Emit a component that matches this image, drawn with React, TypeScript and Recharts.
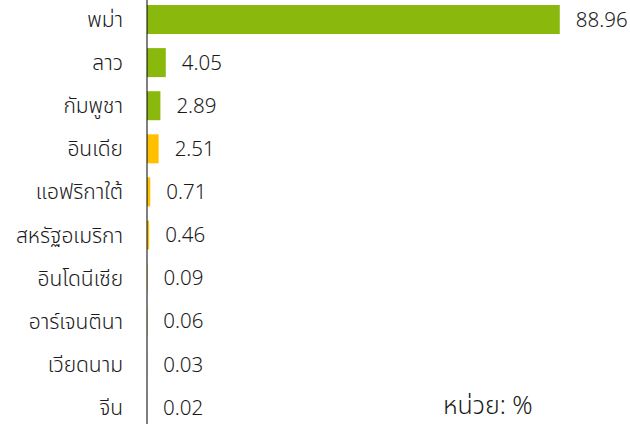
import React from 'react';
import { BarChart, Bar, XAxis, YAxis, Cell, LabelList } from 'recharts';

const categories = ['พม่า', 'ลาว', 'กัมพูชา', 'อินเดีย', 'แอฟริกาใต้', 'สหรัฐอเมริกา', 'อินโดนีเซีย', 'อาร์เจนตินา', 'เวียดนาม', 'จีน'];
const values = [88.96, 4.05, 2.89, 2.51, 0.71, 0.46, 0.09, 0.06, 0.03, 0.02];
const colors = ['#8BB80D', '#8BB80D', '#8BB80D', '#FFC000', '#FFC000', '#FFC000', '#FFC000', '#FFC000', '#FFC000', '#FFC000'];
const unitLabel = 'หน่วย: %';

const data = categories.map((name, i) => ({ name, value: values[i], color: colors[i] }));

const FONT = '"Noto Sans Thai", "Noto Sans", sans-serif';

export default function App() {
  return (
    <div style={{ position: 'absolute', left: 0, top: 0, width: 630, height: 424, overflow: 'hidden', background: '#fff', fontFamily: FONT }}>
      <div style={{ position: 'absolute', left: 0, top: -2 }}>
        <BarChart
          width={630}
          height={431}
          data={data}
          layout="vertical"
          margin={{ top: 0, right: 19, bottom: 0, left: 0 }}
          barSize={29}
        >
          <XAxis type="number" domain={[0, 100]} hide />
          <YAxis
            type="category"
            dataKey="name"
            width={147}
            axisLine={{ stroke: '#000', strokeWidth: 1 }}
            tickLine={false}
            tickMargin={18}
            tick={{ fill: '#1a1a1a', fontSize: 21, fontFamily: FONT, fontWeight: 300 }}
          />
          <Bar dataKey="value" isAnimationActive={false}>
            {data.map((d, i) => (
              <Cell key={i} fill={d.color} />
            ))}
            <LabelList dataKey="value" position="right" offset={16} fill="#1a1a1a" fontSize={20.5} fontFamily={FONT} fontWeight={300} />
          </Bar>
        </BarChart>
      </div>
      <div style={{ position: 'absolute', left: 443, top: 392, fontSize: 25, fontWeight: 300, color: '#1a1a1a', whiteSpace: 'nowrap', lineHeight: '28px' }}>
        {unitLabel}
      </div>
    </div>
  );
}
